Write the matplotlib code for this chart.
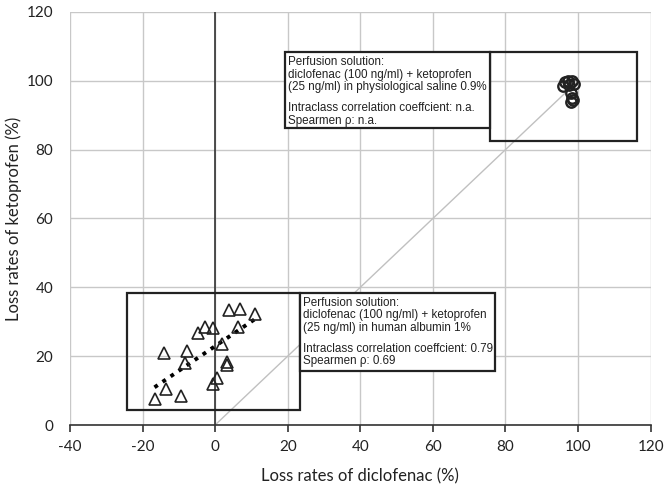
import matplotlib.pyplot as plt
import numpy as np
from matplotlib.patches import Rectangle

plt.rcParams["axes.unicode_minus"] = False

# albumin 1% perfusion (triangles)
albumin_diclofenac = [3.7, 6.9, 11.0, 6.4, -2.8, -0.5, -4.6, 1.8, -14.0,
                      -7.8, -8.4, 3.2, 3.4, 0.5, -0.5, -13.6, -9.4, -16.7]
albumin_ketoprofen = [33.4, 33.7, 32.2, 28.6, 28.4, 28.1, 26.8, 23.5, 20.8,
                      21.6, 17.9, 18.4, 17.4, 13.6, 11.9, 10.5, 8.4, 7.5]

# physiological saline 0.9% perfusion (circles)
saline_diclofenac = [95.8, 96.5, 97.3, 98.2, 98.8, 97.5, 98.0, 98.3, 98.0, 98.6]
saline_ketoprofen = [98.5, 99.5, 100.0, 99.8, 99.2, 98.8, 96.5, 95.0, 93.8, 94.5]

x_ticks = [-40, -20, 0, 20, 40, 60, 80, 100, 120]
y_ticks = [0, 20, 40, 60, 80, 100, 120]

head_albumin = ("Perfusion solution:\n"
                "diclofenac (100 ng/ml) + ketoprofen\n"
                "(25 ng/ml) in human albumin 1%")
stats_albumin = ("Intraclass correlation coeffcient: 0.79\n"
                 "Spearmen \u03c1: 0.69")
head_saline = ("Perfusion solution:\n"
               "diclofenac (100 ng/ml) + ketoprofen\n"
               "(25 ng/ml) in physiological saline 0.9%")
stats_saline = ("Intraclass correlation coeffcient: n.a.\n"
                "Spearmen \u03c1: n.a.")

fig = plt.figure(figsize=(6.66, 4.86), dpi=100)
ax = fig.add_axes([0.105, 0.1255, 0.872, 0.85])

ax.set_xlim(-40, 120)
ax.set_ylim(0, 120)
ax.set_xticks(x_ticks)
ax.set_yticks(y_ticks)
ax.grid(True, color="#c8c8c8", linewidth=1.0, zorder=0)
for s in ["left", "right", "top"]:
    ax.spines[s].set_visible(False)
ax.spines["bottom"].set_color("#333333")
ax.spines["bottom"].set_linewidth(1.2)
ax.spines["bottom"].set_zorder(3)
ax.tick_params(axis="x", length=5, width=1.2, color="#333333", pad=6)
ax.tick_params(axis="y", length=0, pad=12)
ax.set_axisbelow(True)

# y axis crossing at x = 0
ax.axvline(0, color="#333333", linewidth=1.2, zorder=3)

# line of identity
ax.plot([0, 97], [0, 97], color="#c0c0c0", linewidth=1.0, zorder=1)

# regression line for albumin data
coef = np.polyfit(albumin_diclofenac, albumin_ketoprofen, 1)
xs = np.array([min(albumin_diclofenac), max(albumin_diclofenac)])
ax.plot(xs, np.polyval(coef, xs), color="black", linestyle=(0, (1, 1.5)),
        linewidth=2.8, zorder=4)

ax.plot(albumin_diclofenac, albumin_ketoprofen, linestyle="none", marker="^",
        markersize=9, markerfacecolor="none", markeredgecolor="#222222",
        markeredgewidth=1.2, zorder=5)
ax.plot(saline_diclofenac, saline_ketoprofen, linestyle="none", marker="o",
        markersize=7.5, markerfacecolor="none", markeredgecolor="#222222",
        markeredgewidth=1.7, zorder=5)

# outline boxes around the clusters
ax.add_patch(Rectangle((-24.2, 4.4), 47.6, 34.0, fill=False,
                       edgecolor="#222222", linewidth=1.6, zorder=6))
ax.add_patch(Rectangle((75.7, 82.6), 40.4, 25.8, fill=False,
                       edgecolor="#222222", linewidth=1.6, zorder=6))

# text boxes
ax.add_patch(Rectangle((23.4, 15.7), 53.6, 22.7, facecolor="white",
                       edgecolor="#222222", linewidth=1.6, zorder=6))
ax.add_patch(Rectangle((19.3, 86.3), 56.4, 22.1, facecolor="white",
                       edgecolor="#222222", linewidth=1.6, zorder=6))
txt = dict(fontsize=8.4, family="Liberation Sans", va="top", ha="left",
           linespacing=1.05, color="#222222", zorder=7)
ax.text(24.2, 37.3, head_albumin, **txt)
ax.text(24.2, 23.9, stats_albumin, **txt)
ax.text(20.1, 107.1, head_saline, **txt)
ax.text(20.1, 93.7, stats_saline, **txt)

for lab in ax.get_xticklabels() + ax.get_yticklabels():
    lab.set_family("Lato")
    lab.set_fontsize(11)
    lab.set_color("#222222")

ax.set_xlabel("Loss rates of diclofenac (%)", fontsize=12, family="Lato",
              color="#222222", labelpad=10)
ax.set_ylabel("Loss rates of ketoprofen (%)", fontsize=12, family="Lato",
              color="#222222")
ax.yaxis.set_label_coords(-0.083, 0.5)

fig.savefig("out.png", dpi=100)
